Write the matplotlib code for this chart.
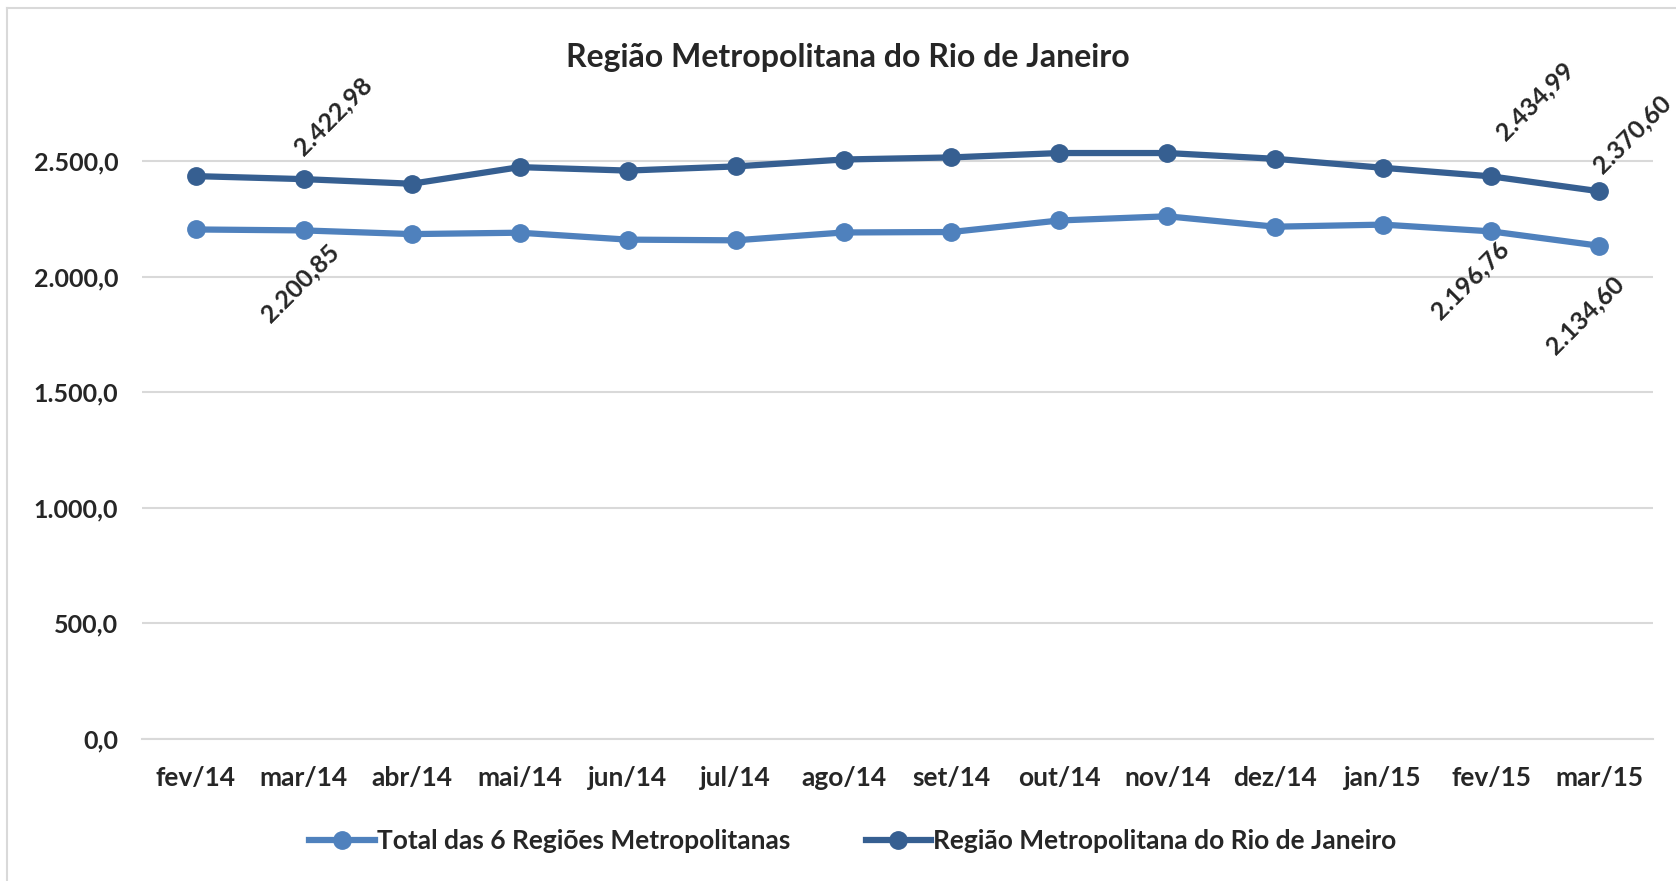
import matplotlib.pyplot as plt
import numpy as np

plt.rcParams['font.family'] = ['Lato', 'DejaVu Sans']
plt.rcParams['font.weight'] = 'bold'

meses = ["fev/14", "mar/14", "abr/14", "mai/14", "jun/14", "jul/14", "ago/14",
         "set/14", "out/14", "nov/14", "dez/14", "jan/15", "fev/15", "mar/15"]
total6 = [2205, 2200.85, 2185, 2191, 2161, 2158, 2192, 2194, 2244, 2262,
          2217, 2226, 2196.76, 2134.60]
rio = [2436, 2422.98, 2403, 2475, 2460, 2478, 2508, 2517, 2536, 2536,
       2511, 2472, 2434.99, 2370.60]
yticks = [0, 500, 1000, 1500, 2000, 2500]

# which points get a data label
idx_lab = [1, 12, 13]

cor_claro = "#4F81BD"
cor_escuro = "#365F91"
cor_texto = "#262626"

fig = plt.figure(figsize=(16.76, 8.81), dpi=100)
ax = fig.add_axes([142/1676, 0.1616, (1653-142)/1676, 0.7601])

x = np.arange(len(meses))
ax.plot(x, total6, color=cor_claro, lw=4.5, marker='o', ms=12.5, label="Total das 6 Regiões Metropolitanas")
ax.plot(x, rio, color=cor_escuro, lw=4.5, marker='o', ms=12.5, label="Região Metropolitana do Rio de Janeiro")

def fmt(v):
    s = "{:,.2f}".format(v)
    return s.replace(",", "X").replace(".", ",").replace("X", ".")

off_rio = [(21, 45), (32, 54), (24, 41)]
off_tot = [(-3, -38), (-15, -35), (-10, -50)]
for k, i in enumerate(idx_lab):
    ax.annotate(fmt(rio[i]), (x[i], rio[i]), xytext=off_rio[k], textcoords='offset points',
                rotation=45, ha='center', va='center', fontsize=18, color=cor_texto,
                annotation_clip=False)
    ax.annotate(fmt(total6[i]), (x[i], total6[i]), xytext=off_tot[k], textcoords='offset points',
                rotation=45, ha='center', va='center', fontsize=18, color=cor_texto,
                annotation_clip=False)

ax.set_xlim(-0.5, len(meses) - 0.5)
ax.set_ylim(0, 2900)
ax.set_yticks(yticks)
ax.set_yticklabels([fmt(v)[:-1] for v in yticks])
ax.set_xticks(x)
ax.set_xticklabels(meses)
ax.tick_params(length=0, colors=cor_texto)
ax.tick_params(axis='x', labelsize=19, pad=20)
ax.tick_params(axis='y', labelsize=18, pad=17)
ax.grid(axis='y', color='#D9D9D9', lw=1.5)
ax.set_axisbelow(True)
for s in ['top', 'right', 'left']:
    ax.spines[s].set_visible(False)
ax.spines['bottom'].set_color('#D9D9D9')
ax.spines['bottom'].set_linewidth(1.5)

fig.text(848/1676, 1 - 57/881, "Região Metropolitana do Rio de Janeiro", ha='center', va='center',
         fontsize=23, color=cor_texto, fontweight='bold')

fig.legend(loc='center', bbox_to_anchor=(0.509, 1 - 841/881), ncol=2, frameon=False,
           fontsize=19, handlelength=2.47, handletextpad=0.1, columnspacing=2.84,
           labelcolor=cor_texto)

# borda cinza do gráfico
fig.add_artist(plt.Line2D([7/1676, 7/1676], [0, 1 - 8/881], color='#D9D9D9', lw=1.5))
fig.add_artist(plt.Line2D([7/1676, 1], [1 - 8/881, 1 - 8/881], color='#D9D9D9', lw=1.5))

fig.savefig("out.png", dpi=100)
